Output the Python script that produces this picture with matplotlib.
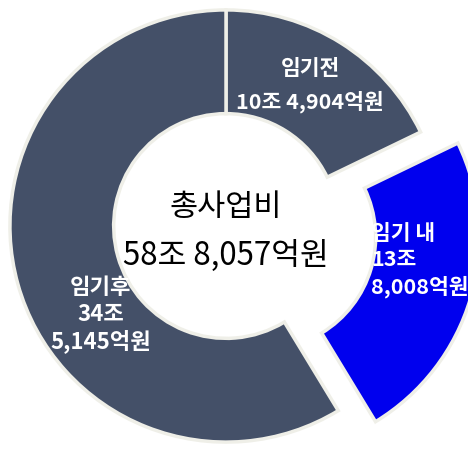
import numpy as np
import matplotlib.pyplot as plt

plt.rcParams['font.family'] = ['Noto Sans CJK KR', 'DejaVu Sans']

# 단위: 억원
names = ["임기전", "임기 내", "임기후"]
values = [104904, 138008, 345145]
labels = ["임기전\n10조 4,904억원", "임기 내\n13조\n8,008억원", "임기후\n34조\n5,145억원"]
colors = ["#445068", "#0000ee", "#445068"]
explode = [0, 0.18, 0]
total_label = "58조 8,057억원"

fig = plt.figure(figsize=(4.68, 4.49), dpi=100)
ax = fig.add_axes([0, 0, 1, 1])

wedges, _ = ax.pie(values, colors=colors, explode=explode, startangle=90,
                   counterclock=False, radius=1.0,
                   wedgeprops=dict(width=0.48, edgecolor="#efefe8", linewidth=2.5))

# 라벨 위치 (데이터 좌표)
lab_pos = [(0.39, 0.65), (0.67, -0.16), (-0.58, -0.41)]
lab_ha = ["center", "left", "center"]
lab_size = [15.5, 15.5, 16]
lab_ls = [1.6, 1.32, 1.2]
for lab, (x, y), ha, fs, ls in zip(labels, lab_pos, lab_ha, lab_size, lab_ls):
    ax.text(x, y, lab, ha=ha, va="center", color="white", fontsize=fs,
            fontweight="bold", linespacing=ls)

ax.text(0, 0.085, "총사업비", ha="center", va="center", fontsize=22, color="black")
ax.text(0, -0.14, total_label, ha="center", va="center", fontsize=22.5, color="black")

ax.set_xlim(-1.046, 1.120)
ax.set_ylim(-1.032, 1.046)
ax.set_aspect("auto")
ax.axis("off")

fig.savefig("out.png", dpi=100)
